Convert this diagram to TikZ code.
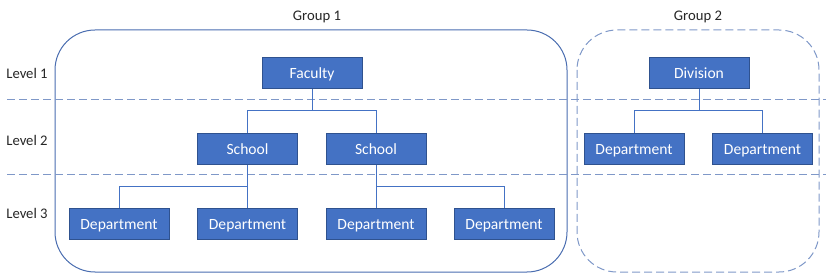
\documentclass[tikz,border=0pt]{standalone}
\usepackage{fontspec}
\setmainfont{Carlito}
\begin{document}
\begin{tikzpicture}[x=0.75pt,y=-0.75pt,
  unitbox/.style={draw=boxborder,fill=boxfill,text=white,minimum width=75pt,minimum height=23.25pt,inner sep=0pt,text height=9pt,text depth=1pt,line width=0.75pt,font=\fontsize{11.7pt}{14pt}\selectfont},
  lbl/.style={text=labeltext,font=\fontsize{11pt}{13pt}\selectfont,inner sep=0pt},
  link/.style={draw=linkcol,line width=0.75pt},
  levelline/.style={draw=dashcol,dashed,dash pattern=on 6pt off 3pt,line width=0.75pt},
  grpsolid/.style={draw=grp1col,line width=0.75pt,rounded corners=30pt},
  grpdash/.style={draw=dashcol,line width=0.75pt,rounded corners=30pt,dash pattern=on 6pt off 3pt}
]
\definecolor{boxfill}{HTML}{4472C4}
\definecolor{boxborder}{HTML}{2F528F}
\definecolor{linkcol}{HTML}{4472C4}
\definecolor{dashcol}{HTML}{7F98C8}
\definecolor{grp1col}{HTML}{4A6DB0}
\definecolor{labeltext}{HTML}{262626}
\useasboundingbox (0,0) rectangle (826,278);

% group boxes
\draw[grpsolid] (55,30) rectangle (567,272);
\draw[grpdash] (577,30) rectangle (819,272);
\node[lbl] (g1) at (317,17) {Group 1};
\node[lbl] (g2) at (698,17) {Group 2};

% level lines
\coordinate (l1a) at (7,99.5);
\coordinate (l1b) at (826,99.5);
\coordinate (l2a) at (7,174.5);
\coordinate (l2b) at (826,174.5);
\draw[levelline] (l1a) -- (l1b);
\draw[levelline] (l2a) -- (l2b);

\node[lbl] (lv1) at (27,73) {Level 1};
\node[lbl] (lv2) at (27,140) {Level 2};
\node[lbl] (lv3) at (27,213) {Level 3};

% nodes
\node[unitbox] (fac) at (312,73.5) {Faculty};
\node[unitbox] (div) at (699,73.5) {Division};
\node[unitbox] (sch1) at (247.5,149) {School};
\node[unitbox] (sch2) at (376,149) {School};
\node[unitbox] (gd1) at (634,149) {Department};
\node[unitbox] (gd2) at (762.5,149) {Department};
\node[unitbox] (d1) at (119,224) {Department};
\node[unitbox] (d2) at (247.5,224) {Department};
\node[unitbox] (d3) at (376,224) {Department};
\node[unitbox] (d4) at (504,224) {Department};

% bar levels
\coordinate (bA) at (0,111);
\coordinate (bB) at (0,186.5);

\draw[link] (fac.south) -- (fac.south|-bA) -| (sch1.north);
\draw[link] (fac.south|-bA) -| (sch2.north);
\draw[link] (div.south) -- (div.south|-bA) -| (gd1.north);
\draw[link] (div.south|-bA) -| (gd2.north);
\draw[link] (sch1.south) -- (d2.north);
\draw[link] (sch1.south|-bB) -| (d1.north);
\draw[link] (sch2.south) -- (d3.north);
\draw[link] (sch2.south|-bB) -| (d4.north);
\end{tikzpicture}
\end{document}
